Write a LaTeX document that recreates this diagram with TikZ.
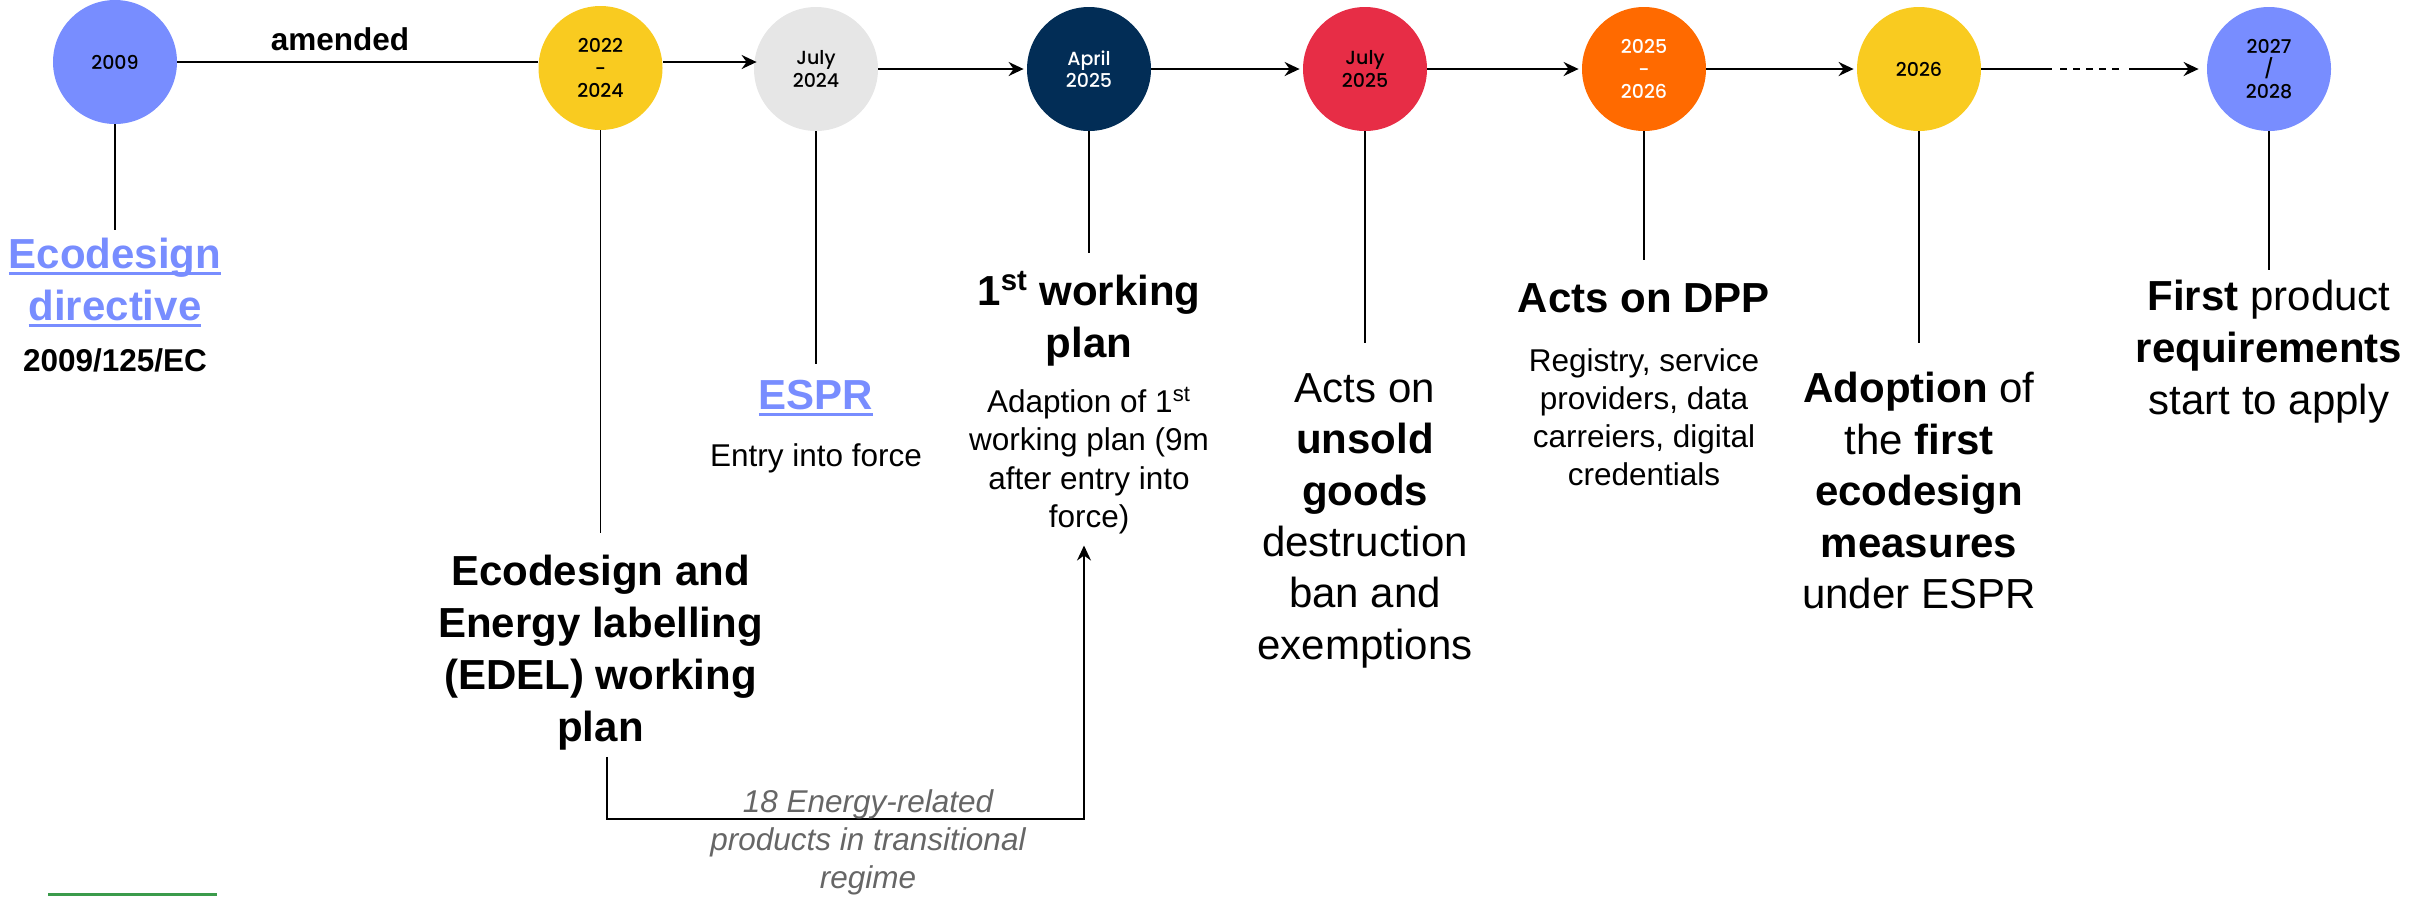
\documentclass[tikz,border=0pt]{standalone}
\usepackage{fontspec}
\setmainfont{Liberation Sans}
\newfontfamily\circfont{Poppins}[UprightFont={* Medium}]
\usetikzlibrary{arrows.meta}
\definecolor{peri}{HTML}{788DFF}
\definecolor{yel}{HTML}{F9CB20}
\definecolor{lgray}{HTML}{E6E6E6}
\definecolor{navy}{HTML}{022D56}
\definecolor{redc}{HTML}{E72D46}
\definecolor{orng}{HTML}{FF6A00}
\definecolor{grn}{HTML}{3B9B4B}
\definecolor{txtgray}{HTML}{666666}
\newsavebox\ulbox
\newcommand{\myul}[1]{\sbox\ulbox{#1}\rlap{\rule[-3.3pt]{\wd\ulbox}{1.6pt}}\usebox\ulbox}
\begin{document}
\begin{tikzpicture}[x=0.5pt,y=-0.5pt,
  yr/.style={circle, minimum size=62pt, inner sep=0pt, align=center,
    font=\circfont\fontsize{9.5}{11.2}\selectfont},
  hline/.style={line width=1.1pt},
  vline/.style={line width=0.8pt},
  tipstyle/.style={-{Stealth[length=7.5pt,width=7pt,inset=2.5pt]}},
  arr/.style={line width=1.1pt, tipstyle, shorten >=1.5pt},
  bigb/.style={anchor=north, inner sep=0pt, align=center, font=\bfseries\fontsize{21}{26}\selectfont},
  big/.style={anchor=north, inner sep=0pt, align=center, font=\fontsize{21}{25.7}\selectfont},
  medb/.style={anchor=north, inner sep=0pt, align=center, font=\bfseries\fontsize{15.75}{19.25}\selectfont},
  med/.style={anchor=north, inner sep=0pt, align=center, font=\fontsize{15.75}{19.25}\selectfont},
]
\useasboundingbox (0,0) rectangle (2409,896);

% year circles
\node[yr, fill=peri] (c2009) at (115,62) {2009};
\node[yr, fill=yel] (c2022) at (600.5,68) {2022\\-\\2024};
\node[yr, fill=lgray] (cjul24) at (816,69) {July\\2024};
\node[yr, fill=navy, text=white] (capr25) at (1089,69) {April\\2025};
\node[yr, fill=redc] (cjul25) at (1365,69) {July\\2025};
\node[yr, fill=orng, text=white] (c2526) at (1644,69) {2025\\-\\2026};
\node[yr, fill=yel] (c2026) at (1919,69) {2026};
\node[yr, fill=peri] (c2728) at (2269,69) {2027\\/\\2028};

% timeline connectors
\draw[hline] (c2009.east) -- (c2009.east -| c2022.west);
\node[font=\bfseries\fontsize{15.75}{19}\selectfont, inner sep=0pt] (amend) at (340,39) {amended};
\draw[arr, shorten >=-1.5pt] (c2022.east |- c2009.east) -- (cjul24.west |- c2009.east);
\draw[arr] (cjul24) -- (capr25);
\draw[arr] (capr25) -- (cjul25);
\draw[arr] (cjul25) -- (c2526);
\draw[arr] (c2526) -- (c2026);
\coordinate (s1) at (2052,69);
\coordinate (d1) at (2060,69);
\coordinate (d2) at (2123,69);
\coordinate (s2) at (2129,69);
\draw[hline] (c2026) -- (s1);
\draw[hline, dash pattern=on 3.5pt off 3pt] (d1) -- (d2);
\draw[arr, shorten >=4pt] (s2) -- (c2728);

% labels
\node[bigb, text=peri] (lEco) at (115,238) {\myul{Ecodesign}\\\myul{directive}};
\node[medb] (lEcoCode) at (115,348) {2009/125/EC};
\draw[vline] (c2009.south) -- ([yshift=4pt]lEco.north);

\node[bigb] (lEdel) at (600.5,555) {Ecodesign and\\Energy labelling\\(EDEL) working\\plan};
\draw[vline] (c2022.south) -- ([yshift=11pt]lEdel.north);

\node[bigb, text=peri] (lEspr) at (816,380) {\myul{ESPR}};
\node[med] (lEntry) at (816,443) {Entry into force};
\draw[vline] (cjul24.south) -- ([yshift=8pt]lEspr.north);

\node[bigb] (lWp) at (1089,271) {1\textsuperscript{st} working\\plan};
\node[med] (lAdapt) at (1089,387) {Adaption of 1\textsuperscript{st}\\working plan (9m\\after entry into\\force)};
\draw[vline] (capr25.south) -- ([yshift=9pt]lWp.north);

\draw[line width=0.9pt, tipstyle] ([xshift=3.25pt,yshift=-3pt]lEdel.south) -- ++(0,62) -| ([xshift=-2.5pt,yshift=-5.5pt]lAdapt.south);
\node[med, font=\itshape\fontsize{15.75}{19}\selectfont, text=txtgray] (lTrans) at (868,789) {18 Energy-related\\products in transitional\\regime};

\node[big] (lUns) at (1365,373) {Acts on\\\textbf{unsold}\\\textbf{goods}\\destruction\\ban and\\exemptions};
\draw[vline] (cjul25.south) -- ([yshift=15pt]lUns.north);

\node[bigb] (lDpp) at (1644,283) {Acts on DPP};
\node[med, font=\fontsize{15.75}{19}\selectfont] (lReg) at (1644,348) {Registry, service\\providers, data\\carreiers, digital\\credentials};
\draw[vline] (c2526.south) -- ([yshift=11.5pt]lDpp.north);

\node[big] (lAdo) at (1919,372) {\textbf{Adoption} of\\the \textbf{first}\\\textbf{ecodesign}\\\textbf{measures}\\under ESPR};
\draw[vline] (c2026.south) -- ([yshift=14.5pt]lAdo.north);

\node[big, font=\fontsize{21}{26}\selectfont] (lFirst) at (2269,280) {\textbf{First} product\\\textbf{requirements}\\start to apply};
\draw[vline] (c2728.south) -- ([yshift=5pt]lFirst.north);

% green bar at bottom left
\fill[grn] (48,893) rectangle (217,896);
\end{tikzpicture}
\end{document}
